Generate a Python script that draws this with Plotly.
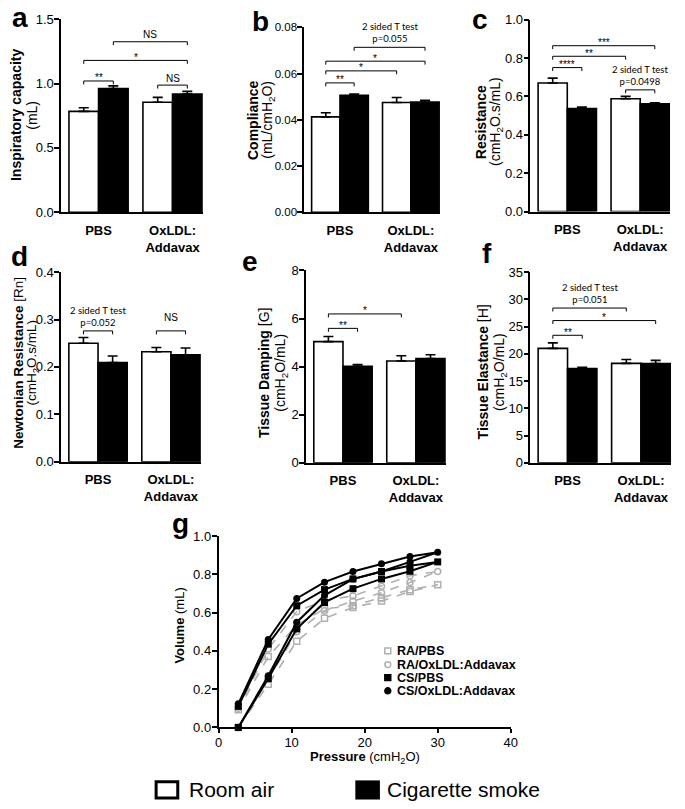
import plotly.graph_objects as go

# The page body adds an 8 px margin, so the figure is drawn 8 px in from the window corner.
PAGE_W, PAGE_H = 685, 809
PAD = 8
W, H = PAGE_W - PAD, PAGE_H - PAD
SANS = "Liberation Sans, Arial, Helvetica, sans-serif"
NOTE = "Lato, Carlito, sans-serif"

# ---------------- data ----------------
groups = [0, 1]
group_ticks = ["<b>PBS</b>", "<b>OxLDL:</b><br><b>Addavax</b>"]
series_names = ["Room air", "Cigarette smoke"]

ic_ra = [0.784, 0.855]
ic_ra_err = [0.028, 0.038]
ic_cs = [0.962, 0.919]
ic_cs_err = [0.020, 0.020]

comp_ra = [0.0413, 0.0475]
comp_ra_err = [0.0018, 0.0022]
comp_cs = [0.0506, 0.0477]
comp_cs_err = [0.0006, 0.0008]

res_ra = [0.670, 0.588]
res_ra_err = [0.025, 0.012]
res_cs = [0.537, 0.562]
res_cs_err = [0.008, 0.004]

rn_ra = [0.250, 0.232]
rn_ra_err = [0.012, 0.009]
rn_cs = [0.209, 0.2255]
rn_cs_err = [0.014, 0.0145]

damp_ra = [5.04, 4.23]
damp_ra_err = [0.21, 0.22]
damp_cs = [4.01, 4.33]
damp_cs_err = [0.08, 0.16]

el_ra = [21.0, 18.25]
el_ra_err = [1.0, 0.7]
el_cs = [17.3, 18.2]
el_cs_err = [0.2, 0.6]

# significance brackets: (bar index from, bar index to, level, label)
# bar index: 0 PBS/RA, 1 PBS/CS, 2 OxLDL/RA, 3 OxLDL/CS
ic_brackets = [(0, 1, 1.02, "**"), (0, 3, 1.18, "*"), (1, 3, 1.325, "NS"), (2, 3, 0.988, "NS")]
comp_brackets = [(0, 1, 0.056, "**"), (0, 2, 0.0612, "*"), (0, 3, 0.0654, "*"),
                 (1, 3, 0.0714, "2 sided T test<br>p=0.055")]
res_brackets = [(0, 1, 0.75, "****"), (0, 2, 0.809, "**"), (0, 3, 0.864, "***"),
                (2, 3, 0.634, "2 sided T test<br>p=0.0498")]
rn_brackets = [(0, 1, 0.276, "2 sided T test<br>p=0.052"), (2, 3, 0.276, "NS")]
damp_brackets = [(0, 1, 5.59, "**"), (0, 2, 6.19, "*")]
el_brackets = [(0, 1, 23.4, "**"), (0, 3, 26.1, "*"), (0, 2, 28.4, "2 sided T test<br>p=0.051")]

# pressure-volume loops (inflation then deflation)
pressure = [2.7, 6.8, 10.7, 14.5, 18.4, 22.3, 26.2, 30.0, 26.2, 22.3, 18.4, 14.5, 10.7, 6.8, 2.7]
vol_ra_pbs = [0, 0.225, 0.45, 0.57, 0.627, 0.66, 0.71, 0.745, 0.72, 0.678, 0.636, 0.62, 0.535, 0.37, 0.092]
vol_ra_ox = [0, 0.25, 0.50, 0.61, 0.66, 0.704, 0.757, 0.815, 0.793, 0.738, 0.687, 0.665, 0.605, 0.41, 0.10]
vol_cs_pbs = [0, 0.255, 0.515, 0.653, 0.725, 0.776, 0.816, 0.865, 0.845, 0.815, 0.776, 0.72, 0.636, 0.435, 0.11]
vol_cs_ox = [0, 0.27, 0.55, 0.69, 0.775, 0.815, 0.865, 0.915, 0.893, 0.855, 0.815, 0.759, 0.674, 0.46, 0.123]

pv_names = ["RA/PBS", "RA/OxLDL:Addavax", "CS/PBS", "CS/OxLDL:Addavax"]

# ---------------- layout helpers ----------------
BARGAP = 0.2
OFF = (1 - BARGAP) / 4
bar_x = [groups[0] - OFF, groups[0] + OFF, groups[1] - OFF, groups[1] + OFF]


def px_x(px):
    return (px - PAD) / W


def px_y(py):
    return 1 - (py - PAD) / H


panels = [
    dict(letter="a", dx=(58, 202), dy=(12.3, 209), ymax=1.5, dtick=0.5, fmt=".1f", tfs=13,
         t1="<b>Inspiratory capacity</b>", t2="(mL)", tx=(12, 28), ty=110, tsize=14, lpos=(16, 11),
         ra=ic_ra, rae=ic_ra_err, cs=ic_cs, cse=ic_cs_err, br=ic_brackets),
    dict(letter="b", dx=(305, 443), dy=(20.7, 209), ymax=0.08, dtick=0.02, fmt=".2f", tfs=11.5,
         t1="<b>Compliance</b>", t2="(mL/cmH<sub>2</sub>O)", tx=(253, 268), ty=115, tsize=14,
         lpos=(261, 15),
         ra=comp_ra, rae=comp_ra_err, cs=comp_cs, cse=comp_cs_err, br=comp_brackets),
    dict(letter="c", dx=(535, 677), dy=(12.7, 208.3), ymax=1.0, dtick=0.2, fmt=".1f", tfs=13,
         t1="<b>Resistance</b>", t2="(cmH<sub>2</sub>O.s/mL)", tx=(485, 500), ty=117, tsize=14,
         lpos=(484, 13),
         ra=res_ra, rae=res_ra_err, cs=res_cs, cse=res_cs_err, br=res_brackets),
    dict(letter="d", dx=(58, 200), dy=(270, 463.3), ymax=0.4, dtick=0.1, fmt=".1f", tfs=13,
         t1="<b>Newtonian Resistance</b> [Rn]", t2="(cmH<sub>2</sub>O.s/mL)", tx=(14.5, 28.5), ty=362,
         tsize=13.5, lpos=(16, 254),
         ra=rn_ra, rae=rn_ra_err, cs=rn_cs, cse=rn_cs_err, br=rn_brackets),
    dict(letter="e", dx=(307, 449), dy=(268.3, 464.3), ymax=8, dtick=2, fmt="d", tfs=13,
         t1="<b>Tissue Damping</b> [G]", t2="(cmH<sub>2</sub>O/mL)", tx=(264, 282), ty=373, tsize=14,
         lpos=(250, 259),
         ra=damp_ra, rae=damp_ra_err, cs=damp_cs, cse=damp_cs_err, br=damp_brackets),
    dict(letter="f", dx=(535, 678), dy=(270, 464.3), ymax=35, dtick=5, fmt="d", tfs=13,
         t1="<b>Tissue Elastance</b> [H]", t2="(cmH<sub>2</sub>O/mL)", tx=(487, 504), ty=372, tsize=14,
         lpos=(491, 251),
         ra=el_ra, rae=el_ra_err, cs=el_cs, cse=el_cs_err, br=el_brackets),
]

fig = go.Figure()
layout = {}
annotations = []
shapes = []

axis_common = dict(showline=True, linecolor="black", linewidth=1.6, showgrid=False, zeroline=False)

for i, p in enumerate(panels, start=1):
    xa, ya = f"x{i}", f"y{i}"
    layout[f"xaxis{i}"] = dict(axis_common, domain=[px_x(p["dx"][0]), px_x(p["dx"][1])],
                               range=[-0.505, 1.41], anchor=ya, ticks="",
                               tickvals=groups, ticktext=group_ticks, ticklabelstandoff=5,
                               tickfont=dict(family=SANS, size=13, color="black"))
    layout[f"yaxis{i}"] = dict(axis_common, domain=[px_y(p["dy"][1]), px_y(p["dy"][0])],
                               range=[0, p["ymax"]], anchor=xa, ticks="outside", ticklen=5,
                               tickwidth=1.6, tickcolor="black", dtick=p["dtick"], tickformat=p["fmt"],
                               ticklabelstandoff=-2,
                               tickfont=dict(family=SANS, size=p["tfs"], color="black"))
    for vals, errs, fill in ((p["ra"], p["rae"], "white"), (p["cs"], p["cse"], "black")):
        fig.add_trace(go.Bar(
            x=groups, y=vals, xaxis=xa, yaxis=ya, showlegend=False,
            marker=dict(color=fill, line=dict(color="black", width=1.6)),
            error_y=dict(type="data", symmetric=False, array=errs, arrayminus=[0] * len(errs),
                         color="black", thickness=1.6, width=5),
            hoverinfo="skip"))
    # brackets
    plot_h = p["dy"][1] - p["dy"][0]
    drop = 3.5 / plot_h * p["ymax"]
    note_levels = [lev for _, _, lev, t in p["br"] if "sided" in t]
    bx, by = [], []
    for a, b, lev, txt in p["br"]:
        bx += [bar_x[a], bar_x[a], bar_x[b], bar_x[b], None]
        by += [lev - drop, lev, lev, lev - drop, None]
        if "sided" in txt:
            font = dict(family=NOTE, size=9.5, color="black")
            ys = 1
        elif "*" in txt:
            font = dict(family=SANS, size=10, color="black")
            ys = -4.5
        else:
            font = dict(family=SANS, size=10, color="black")
            # a plain label sharing a row with a two-line note sits level with the note
            ys = 6 if lev in note_levels else -0.5
        annotations.append(dict(x=(bar_x[a] + bar_x[b]) / 2, y=lev, xref=xa, yref=ya, text=txt,
                                showarrow=False, yanchor="bottom", xanchor="center", yshift=ys,
                                font=font))
    fig.add_trace(go.Scatter(x=bx, y=by, xaxis=xa, yaxis=ya, mode="lines",
                             line=dict(color="black", width=1), showlegend=False,
                             hoverinfo="skip", cliponaxis=False))
    # axis title (two lines placed separately)
    for txt, xx in ((p["t1"], p["tx"][0]), (p["t2"], p["tx"][1])):
        annotations.append(dict(x=px_x(xx), y=px_y(p["ty"]), xref="paper", yref="paper",
                                text=txt, textangle=-90, showarrow=False,
                                xanchor="center", yanchor="middle",
                                font=dict(family=SANS, size=p["tsize"], color="black")))
    # panel letter
    annotations.append(dict(x=px_x(p["lpos"][0]), y=px_y(p["lpos"][1]), xref="paper", yref="paper",
                            text=f"<b>{p['letter']}</b>", showarrow=False,
                            xanchor="center", yanchor="middle",
                            font=dict(family=SANS, size=28, color="black")))

# ---------------- panel g ----------------
gi = len(panels) + 1
gx, gy = f"x{gi}", f"y{gi}"
gfont = dict(family=SANS, size=13, color="black")
layout[f"xaxis{gi}"] = dict(axis_common, domain=[px_x(218), px_x(515)], range=[0, 40], dtick=10,
                            anchor=gy, ticks="outside", ticklen=4, tickwidth=1.6, tickcolor="black",
                            tickfont=gfont, ticklabelstandoff=-2)
layout[f"yaxis{gi}"] = dict(axis_common, domain=[px_y(734), px_y(539)], range=[0, 1.0], dtick=0.2,
                            tickformat=".1f", anchor=gx, ticks="outside", ticklen=5, tickwidth=1.6,
                            tickcolor="black", tickfont=gfont, ticklabelstandoff=-2)

GRAY = "#b0b0b0"
pv_series = [
    (vol_ra_pbs, dict(color=GRAY, width=1.6, dash="dash"),
     dict(symbol="square-open", size=6, color=GRAY, line=dict(width=1.5, color=GRAY))),
    (vol_ra_ox, dict(color=GRAY, width=1.6, dash="dash"),
     dict(symbol="circle-open", size=6, color=GRAY, line=dict(width=1.5, color=GRAY))),
    (vol_cs_pbs, dict(color="black", width=2),
     dict(symbol="square", size=7, color="black")),
    (vol_cs_ox, dict(color="black", width=2),
     dict(symbol="circle", size=7, color="black")),
]
for (vals, ln, mk), name in zip(pv_series, pv_names):
    fig.add_trace(go.Scatter(x=pressure, y=vals, xaxis=gx, yaxis=gy, mode="lines+markers",
                             line=ln, marker=mk, name=name, showlegend=False, cliponaxis=False))

annotations.append(dict(x=px_x(178), y=px_y(630), xref="paper", yref="paper",
                        text="<b>Volume</b> (mL)", textangle=-90, showarrow=False,
                        xanchor="center", yanchor="middle", font=gfont))
annotations.append(dict(x=px_x(367), y=px_y(765), xref="paper", yref="paper",
                        text="<b>Pressure</b> (cmH<sub>2</sub>O)", showarrow=False,
                        xanchor="center", yanchor="middle", font=gfont))
annotations.append(dict(x=px_x(179), y=px_y(526), xref="paper", yref="paper", text="<b>g</b>",
                        showarrow=False, xanchor="center", yanchor="middle",
                        font=dict(family=SANS, size=28, color="black")))

# manual legend for panel g
leg_y = [656, 670, 683.3, 696.7]
leg_styles = [("rect", "white", GRAY), ("circle", "white", GRAY), ("rect", "black", "black"),
              ("circle", "black", "black")]
for name, yc, (shp, fill, edge) in zip(pv_names, leg_y, leg_styles):
    shapes.append(dict(type=shp, xref="paper", yref="paper",
                       x0=px_x(387), x1=px_x(393), y0=px_y(yc + 3), y1=px_y(yc - 3),
                       fillcolor=fill, line=dict(color=edge, width=1.5)))
    annotations.append(dict(x=px_x(397), y=px_y(yc), xref="paper", yref="paper",
                            text=f"<b>{name}</b>", showarrow=False, xanchor="left", yanchor="middle",
                            font=dict(family=SANS, size=12.5, color="black")))

# bottom legend
shapes.append(dict(type="rect", xref="paper", yref="paper", x0=px_x(154.5), x1=px_x(176.5),
                   y0=px_y(806), y1=px_y(789.5), fillcolor="white", line=dict(color="black", width=3)))
shapes.append(dict(type="rect", xref="paper", yref="paper", x0=px_x(357), x1=px_x(382),
                   y0=px_y(807.5), y1=px_y(788), fillcolor="black", line=dict(color="black", width=0)))
annotations.append(dict(x=px_x(186), y=px_y(797), xref="paper", yref="paper", text=series_names[0],
                        showarrow=False, xanchor="left", yanchor="middle",
                        font=dict(family=SANS, size=21, color="black")))
annotations.append(dict(x=px_x(387), y=px_y(797), xref="paper", yref="paper", text=series_names[1],
                        showarrow=False, xanchor="left", yanchor="middle",
                        font=dict(family=SANS, size=21, color="black")))

fig.update_layout(
    width=W, height=H, margin=dict(l=0, r=0, t=0, b=0),
    paper_bgcolor="white", plot_bgcolor="white",
    barmode="group", bargap=BARGAP, bargroupgap=0,
    font=dict(family=SANS, color="black"),
    annotations=annotations, shapes=shapes, showlegend=False,
    **layout)

fig.write_html("out.html")
